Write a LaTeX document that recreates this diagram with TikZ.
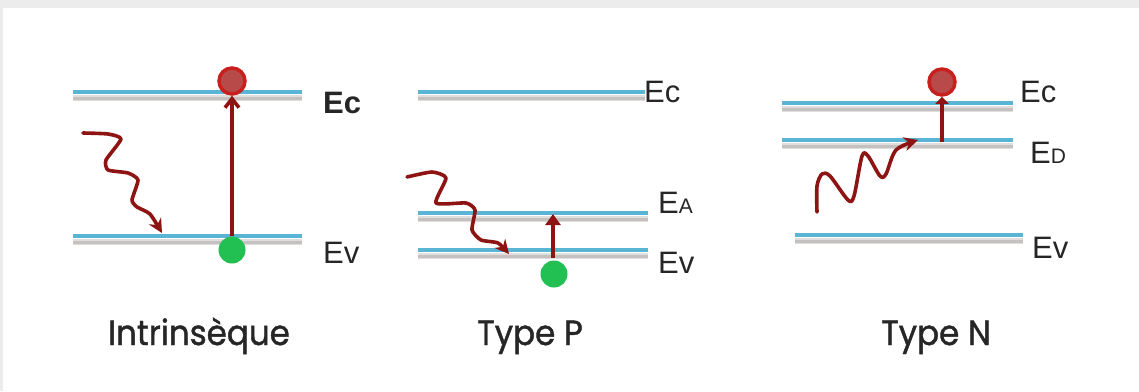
\documentclass[tikz,border=0pt]{standalone}
\usepackage{fontspec}
\setmainfont{Liberation Sans}
\newfontfamily\capfont[FakeStretch=0.93,FakeBold=1.2]{Poppins}
\usetikzlibrary{arrows.meta}
\definecolor{levelblue}{HTML}{5AB4D4}
\definecolor{shadowgray}{HTML}{A8A0A0}
\definecolor{arrowred}{HTML}{8E1414}
\definecolor{ballred}{HTML}{C8201C}
\definecolor{ballin}{HTML}{B84A4A}
\definecolor{ballgreen}{HTML}{22BF52}
\definecolor{bandgray}{HTML}{ECECEC}
\definecolor{labelgray}{HTML}{262626}
\tikzset{
  level/.style={levelblue, line width=3.4pt},
  levelshadow/.style={shadowgray, line width=6pt, opacity=0.35},
  levelshadowcore/.style={shadowgray, line width=3pt, opacity=0.45},
  wave/.style={arrowred, line width=3.6pt, line cap=round, line join=round, -{Stealth[length=14pt,width=14pt]}},
  holeball/.style={circle, fill=ballgreen, minimum size=27pt, inner sep=0pt},
  elball/.style={circle, draw=ballred, line width=3.5pt, fill=ballin, minimum size=26pt, inner sep=0pt},
  lvlabel/.style={anchor=base west, inner sep=0pt, text=labelgray, font=\fontsize{31}{36}\selectfont},
  caption/.style={anchor=base, inner sep=0pt, text=labelgray, font=\capfont\fontsize{35}{40}\selectfont},
  jump/.style={arrowred, line width=3.6pt},
}
\newcommand{\lvl}[3]{% x1, x2, y
  \draw[levelshadow] (#1,#3+6) -- (#2,#3+6);
  \draw[levelshadowcore] (#1,#3+6) -- (#2,#3+6);
  \draw[level] (#1,#3) -- (#2,#3);
}
\begin{document}
\begin{tikzpicture}[x=1pt,y=-1pt]
\useasboundingbox (0,0) rectangle (1139,391);
\fill[white] (0,0) rectangle (1139,391);
\fill[bandgray] (0,0) rectangle (1139,8);
\fill[bandgray] (0,0) rectangle (2.5,391);

% ---------- Intrinseque ----------
\lvl{73}{302}{92}
\lvl{73}{302}{236}
\node[elball] (r1) at (232,81) {};
\node[holeball] (g1) at (232,250) {};
\coordinate (a1s) at (232,236);
\draw[jump, -{Straight Barb[length=9pt,width=14pt]}] (a1s) -- (r1.south);
\coordinate (w1s) at (83,133);
\coordinate (w1e) at (162,233);
\draw[wave] plot[smooth, tension=0.35] coordinates {(w1s) (108,134) (121,139) (106,160) (108,170) (128,173) (138,180) (132,200) (137,207) (150,214) (w1e)};
\node[lvlabel, font=\fontsize{31}{36}\selectfont\bfseries] (ec1) at (323,113) {Ec};
\node[lvlabel] (ev1) at (323,263) {Ev};
\node[caption] (c1) at (199,345) {Intrinsèque};

% ---------- Type P ----------
\lvl{418}{645}{92}
\lvl{418}{648}{213}
\lvl{418}{648}{250}
\node[holeball] (g2) at (554,274) {};
\coordinate (a2s) at (553,258);
\coordinate (a2e) at (553,214);
\draw[arrowred, line width=4.5pt, -{Triangle[length=11pt,width=15pt]}] (a2s) -- (a2e);
\coordinate (w2s) at (407,177);
\coordinate (w2e) at (509,254);
\draw[wave] plot[smooth, tension=0.35] coordinates {(w2s) (432,172) (446,178) (436,203) (466,203) (475,210) (472,230) (481,240) (498,243) (w2e)};
\node[lvlabel] (ec2) at (644,102) {Ec};
\node[lvlabel] (ea2) at (658,213) {E\fontsize{21}{26}\selectfont A};
\node[lvlabel] (ev2) at (658,273) {Ev};
\node[caption] (c2) at (530,345) {Type P};

% ---------- Type N ----------
\lvl{782}{1013}{103}
\lvl{782}{1013}{140}
\lvl{795}{1023}{235}
\node[elball] (r3) at (942,82) {};
\coordinate (a3s) at (942,142);
\draw[jump, -{Triangle[length=7pt,width=13pt]}] (a3s) -- (r3.south);
\coordinate (w3s) at (817,212);
\coordinate (w3e) at (918,140);
\draw[wave] plot[smooth, tension=0.5] coordinates {(w3s) (817,186) (822,174) (830,176) (848,200) (854,196) (862,156) (868,156) (880,176) (886,174) (896,150) (w3e)};
\node[lvlabel] (ec3) at (1020,102) {Ec};
\node[lvlabel] (ed3) at (1030,163) {E\fontsize{21}{26}\selectfont D};
\node[lvlabel] (ev3) at (1032,258) {Ev};
\node[caption] (c3) at (936,345) {Type N};
\end{tikzpicture}
\end{document}
